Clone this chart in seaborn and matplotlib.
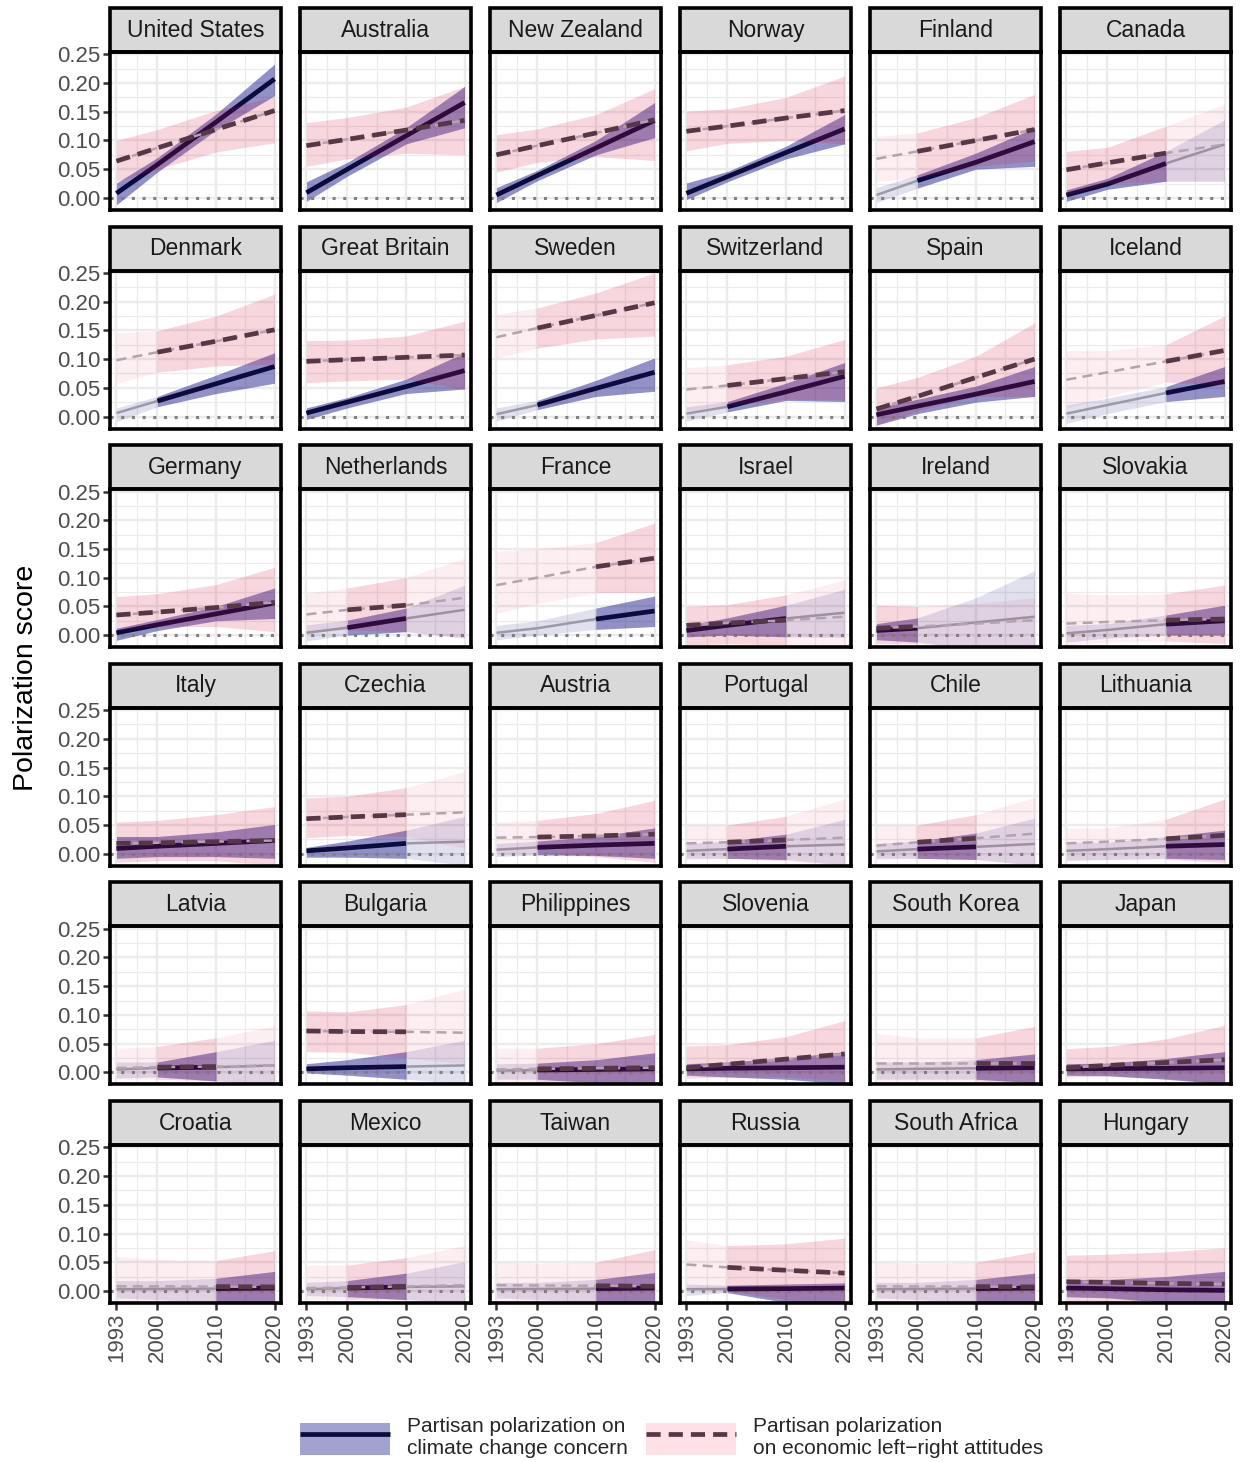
import matplotlib
matplotlib.use('Agg')
import matplotlib.pyplot as plt
from matplotlib.patches import Rectangle, Patch
from matplotlib.lines import Line2D
import seaborn as sns
import numpy as np

# Données : tendances ajustées aux années 1993, 2000, 2010, 2020
countries = ['United States', 'Australia', 'New Zealand', 'Norway', 'Finland', 'Canada',
             'Denmark', 'Great Britain', 'Sweden', 'Switzerland', 'Spain', 'Iceland',
             'Germany', 'Netherlands', 'France', 'Israel', 'Ireland', 'Slovakia',
             'Italy', 'Czechia', 'Austria', 'Portugal', 'Chile', 'Lithuania',
             'Latvia', 'Bulgaria', 'Philippines', 'Slovenia', 'South Korea', 'Japan',
             'Croatia', 'Mexico', 'Taiwan', 'Russia', 'South Africa', 'Hungary']
years = [1993, 2000, 2010, 2020]

clim_fit = [
    [0.008, 0.058, 0.132, 0.207], [0.009, 0.050, 0.108, 0.166], [0.005, 0.039, 0.087, 0.135],
    [0.008, 0.037, 0.079, 0.120], [0.005, 0.030, 0.062, 0.098], [0.005, 0.024, 0.060, 0.093],
    [0.006, 0.027, 0.057, 0.087], [0.006, 0.025, 0.052, 0.080], [0.004, 0.020, 0.049, 0.077],
    [0.005, 0.017, 0.043, 0.070], [0.003, 0.018, 0.039, 0.061], [0.005, 0.020, 0.041, 0.061],
    [0.004, 0.018, 0.037, 0.056], [0.004, 0.013, 0.029, 0.044], [0.004, 0.012, 0.028, 0.042],
    [0.008, 0.017, 0.029, 0.039], [0.008, 0.012, 0.022, 0.032], [0.003, 0.009, 0.019, 0.025],
    [0.009, 0.013, 0.018, 0.023], [0.005, 0.010, 0.018, 0.021], [0.007, 0.011, 0.015, 0.018],
    [0.005, 0.008, 0.013, 0.016], [0.004, 0.008, 0.012, 0.017], [0.005, 0.008, 0.013, 0.016],
    [0.005, 0.0075, 0.009, 0.012], [0.006, 0.008, 0.010, 0.012], [0.003, 0.004, 0.005, 0.006],
    [0.006, 0.007, 0.008, 0.009], [0.005, 0.006, 0.007, 0.008], [0.006, 0.0065, 0.007, 0.008],
    [0.003, 0.0035, 0.004, 0.005], [0.003, 0.005, 0.007, 0.008], [0.003, 0.0035, 0.004, 0.005],
    [0.003, 0.0035, 0.004, 0.005], [0.003, 0.0035, 0.004, 0.005], [0.005, 0.004, 0.002, 0.001],
]
clim_low = [
    [-0.012, 0.045, 0.118, 0.178], [-0.006, 0.038, 0.094, 0.122], [-0.008, 0.030, 0.075, 0.105],
    [-0.003, 0.028, 0.068, 0.094], [-0.008, 0.017, 0.050, 0.055], [-0.006, 0.015, 0.029, 0.029],
    [-0.009, 0.017, 0.040, 0.058], [-0.005, 0.015, 0.040, 0.048], [-0.008, 0.012, 0.035, 0.044],
    [-0.008, 0.008, 0.028, 0.026], [-0.015, 0.005, 0.025, 0.035], [-0.012, 0.005, 0.026, 0.035],
    [-0.009, 0.008, 0.025, 0.029], [-0.010, 0.000, 0.006, -0.005], [-0.008, 0.000, 0.010, 0.015],
    [-0.003, 0.000, -0.003, -0.004], [-0.008, -0.012, -0.025, -0.040], [-0.012, -0.005, 0.000, 0.000],
    [-0.008, -0.005, -0.005, -0.008], [-0.006, -0.006, -0.008, -0.020], [-0.005, -0.002, -0.003, -0.008],
    [-0.008, -0.008, -0.010, -0.020], [-0.008, -0.008, -0.010, -0.020], [-0.012, -0.010, -0.008, -0.010],
    [-0.010, -0.008, -0.015, -0.020], [-0.001, -0.005, -0.012, -0.020], [-0.012, -0.012, -0.018, -0.025],
    [-0.005, -0.008, -0.012, -0.020], [-0.012, -0.012, -0.012, -0.018], [-0.005, -0.006, -0.012, -0.020],
    [-0.012, -0.015, -0.020, -0.025], [-0.008, -0.010, -0.015, -0.020], [-0.012, -0.015, -0.020, -0.025],
    [-0.008, -0.003, -0.020, -0.035], [-0.012, -0.015, -0.020, -0.025], [-0.010, -0.012, -0.020, -0.030],
]
clim_high = [
    [0.026, 0.070, 0.146, 0.233], [0.028, 0.062, 0.122, 0.194], [0.018, 0.048, 0.100, 0.166],
    [0.026, 0.046, 0.090, 0.145], [0.018, 0.040, 0.078, 0.122], [0.014, 0.034, 0.081, 0.136],
    [0.015, 0.035, 0.072, 0.111], [0.015, 0.033, 0.065, 0.111], [0.015, 0.028, 0.063, 0.102],
    [0.017, 0.026, 0.058, 0.094], [0.015, 0.030, 0.053, 0.087], [0.020, 0.032, 0.052, 0.087],
    [0.012, 0.027, 0.050, 0.082], [0.018, 0.026, 0.047, 0.087], [0.017, 0.025, 0.047, 0.068],
    [0.017, 0.030, 0.052, 0.080], [0.020, 0.030, 0.065, 0.112], [0.017, 0.020, 0.035, 0.052],
    [0.030, 0.030, 0.038, 0.051], [0.011, 0.022, 0.041, 0.065], [0.018, 0.022, 0.030, 0.045],
    [0.018, 0.022, 0.034, 0.060], [0.018, 0.022, 0.036, 0.062], [0.020, 0.020, 0.030, 0.041],
    [0.018, 0.018, 0.036, 0.056], [0.015, 0.022, 0.036, 0.056], [0.015, 0.016, 0.022, 0.034],
    [0.015, 0.018, 0.025, 0.036], [0.018, 0.018, 0.022, 0.032], [0.015, 0.016, 0.024, 0.036],
    [0.018, 0.018, 0.022, 0.034], [0.015, 0.018, 0.031, 0.051], [0.015, 0.015, 0.020, 0.032],
    [0.012, 0.010, 0.012, 0.014], [0.015, 0.015, 0.020, 0.031], [0.020, 0.020, 0.025, 0.034],
]
econ_fit = [
    [0.064, 0.087, 0.119, 0.152], [0.091, 0.102, 0.118, 0.135], [0.075, 0.091, 0.113, 0.136],
    [0.116, 0.125, 0.139, 0.152], [0.068, 0.081, 0.100, 0.119], [0.049, 0.061, 0.078, 0.093],
    [0.098, 0.112, 0.131, 0.151], [0.096, 0.099, 0.103, 0.107], [0.138, 0.154, 0.176, 0.198],
    [0.047, 0.054, 0.066, 0.078], [0.013, 0.035, 0.068, 0.100], [0.064, 0.077, 0.096, 0.115],
    [0.035, 0.040, 0.048, 0.057], [0.036, 0.044, 0.052, 0.065], [0.087, 0.100, 0.119, 0.134],
    [0.017, 0.021, 0.026, 0.032], [0.012, 0.015, 0.020, 0.026], [0.020, 0.023, 0.026, 0.028],
    [0.018, 0.019, 0.021, 0.023], [0.061, 0.064, 0.068, 0.072], [0.028, 0.029, 0.031, 0.034],
    [0.018, 0.020, 0.024, 0.028], [0.014, 0.020, 0.027, 0.035], [0.018, 0.021, 0.026, 0.032],
    [0.0075, 0.009, 0.010, 0.012], [0.072, 0.071, 0.0705, 0.069], [0.005, 0.006, 0.007, 0.008],
    [0.008, 0.014, 0.023, 0.032], [0.017, 0.017, 0.017, 0.017], [0.008, 0.012, 0.017, 0.022],
    [0.008, 0.008, 0.0075, 0.007], [0.005, 0.006, 0.008, 0.010], [0.010, 0.0095, 0.009, 0.008],
    [0.046, 0.041, 0.036, 0.031], [0.008, 0.0078, 0.0075, 0.007], [0.016, 0.015, 0.013, 0.012],
]
econ_low = [
    [0.029, 0.050, 0.080, 0.096], [0.055, 0.068, 0.078, 0.075], [0.045, 0.062, 0.072, 0.065],
    [0.082, 0.095, 0.100, 0.094], [0.029, 0.035, 0.055, 0.064], [0.005, 0.025, 0.029, 0.029],
    [0.058, 0.077, 0.088, 0.091], [0.059, 0.062, 0.065, 0.047], [0.102, 0.119, 0.135, 0.140],
    [0.010, 0.020, 0.030, 0.029], [-0.015, 0.010, 0.035, 0.035], [0.015, 0.035, 0.060, 0.055],
    [0.009, 0.015, 0.015, 0.006], [0.005, 0.009, 0.006, -0.005], [0.038, 0.055, 0.074, 0.074],
    [-0.017, -0.015, -0.017, -0.017], [-0.015, -0.015, -0.020, -0.030], [-0.017, -0.012, -0.010, -0.015],
    [-0.015, -0.012, -0.012, -0.020], [0.028, 0.032, 0.030, 0.010], [0.000, 0.002, -0.005, -0.015],
    [-0.010, -0.008, -0.012, -0.020], [-0.010, -0.008, -0.010, -0.020], [-0.010, -0.010, -0.010, -0.015],
    [-0.012, -0.012, -0.015, -0.020], [0.036, 0.035, 0.025, 0.015], [-0.020, -0.020, -0.022, -0.025],
    [-0.010, -0.008, -0.008, -0.015], [-0.015, -0.015, -0.015, -0.020], [-0.008, -0.006, -0.010, -0.020],
    [-0.020, -0.020, -0.020, -0.025], [-0.015, -0.015, -0.015, -0.020], [-0.020, -0.020, -0.020, -0.025],
    [0.005, 0.000, -0.015, -0.035], [-0.020, -0.020, -0.020, -0.025], [-0.020, -0.020, -0.025, -0.030],
]
econ_high = [
    [0.100, 0.119, 0.152, 0.176], [0.131, 0.140, 0.158, 0.194], [0.110, 0.120, 0.145, 0.190],
    [0.151, 0.155, 0.175, 0.212], [0.107, 0.113, 0.140, 0.180], [0.081, 0.088, 0.125, 0.163],
    [0.146, 0.149, 0.175, 0.213], [0.132, 0.133, 0.140, 0.166], [0.178, 0.189, 0.215, 0.250],
    [0.085, 0.090, 0.105, 0.134], [0.050, 0.068, 0.105, 0.163], [0.115, 0.115, 0.125, 0.175],
    [0.067, 0.072, 0.088, 0.118], [0.073, 0.082, 0.100, 0.134], [0.146, 0.150, 0.161, 0.195],
    [0.050, 0.053, 0.070, 0.096], [0.052, 0.050, 0.055, 0.065], [0.073, 0.070, 0.072, 0.087],
    [0.055, 0.058, 0.068, 0.082], [0.097, 0.100, 0.115, 0.143], [0.055, 0.058, 0.070, 0.093],
    [0.050, 0.050, 0.065, 0.095], [0.050, 0.050, 0.068, 0.098], [0.045, 0.045, 0.060, 0.095],
    [0.042, 0.045, 0.060, 0.081], [0.107, 0.105, 0.118, 0.145], [0.042, 0.042, 0.050, 0.066],
    [0.046, 0.048, 0.062, 0.090], [0.068, 0.060, 0.060, 0.080], [0.041, 0.045, 0.058, 0.082],
    [0.060, 0.055, 0.053, 0.070], [0.045, 0.045, 0.058, 0.079], [0.051, 0.048, 0.050, 0.072],
    [0.089, 0.079, 0.082, 0.092], [0.050, 0.048, 0.050, 0.068], [0.062, 0.064, 0.068, 0.075],
]
# période observée (début, fin) de chaque série
clim_span = [
    (1993, 2020), (1993, 2020), (1993, 2020), (1993, 2020), (2000, 2020), (1993, 2010),
    (2000, 2020), (1993, 2020), (2000, 2020), (2000, 2020), (1993, 2020), (2010, 2020),
    (1993, 2020), (2000, 2010), (2010, 2020), (1993, 2010), (1993, 2000), (2010, 2020),
    (1993, 2020), (1993, 2010), (2000, 2020), (2000, 2010), (2000, 2010), (2010, 2020),
    (2000, 2010), (1993, 2010), (2000, 2020), (1993, 2020), (2010, 2020), (1993, 2020),
    (2010, 2020), (2000, 2010), (2010, 2020), (2000, 2020), (2010, 2020), (1993, 2020),
]
econ_span = list(clim_span)

BLUE = '#000080'
PINK = '#DC143C'
NAVY = '#0B0B3E'
ECON = '#553746'

sns.set_theme(style='whitegrid')
plt.rcParams['font.family'] = ['Liberation Sans', 'DejaVu Sans']
plt.rcParams['lines.solid_capstyle'] = 'butt'
plt.rcParams['lines.dash_capstyle'] = 'butt'

fig, axes = plt.subplots(6, 6, figsize=(12.53, 14.62), dpi=100, sharex=True, sharey=True)
fig.subplots_adjust(left=110 / 1253, right=1231 / 1253, top=1 - 52 / 1462,
                    bottom=1 - 1303 / 1462, wspace=0.111, hspace=0.384)


def observed(span, vals):
    idx = [i for i, yr in enumerate(years) if span[0] <= yr <= span[1]]
    return [years[i] for i in idx], [vals[i] for i in idx]


for k, ax in enumerate(axes.flat):
    row, col = divmod(k, 6)
    # rubans climat
    ax.fill_between(years, clim_low[k], clim_high[k], color=BLUE, alpha=0.12, lw=0, zorder=2)
    ox, olo = observed(clim_span[k], clim_low[k])
    _, ohi = observed(clim_span[k], clim_high[k])
    ax.fill_between(ox, olo, ohi, color=BLUE, alpha=0.35, lw=0, zorder=2)
    ax.axhline(0, color='#808080', ls=(0, (1, 2.5)), lw=2.2, zorder=3)
    sns.lineplot(x=years, y=clim_fit[k], ax=ax, color='#9A9AA8', lw=1.8, zorder=4)
    ox, of = observed(clim_span[k], clim_fit[k])
    sns.lineplot(x=ox, y=of, ax=ax, color=NAVY, lw=3.4, zorder=4)
    # rubans économie
    ax.fill_between(years, econ_low[k], econ_high[k], color=PINK, alpha=0.07, lw=0, zorder=5)
    ox, olo = observed(econ_span[k], econ_low[k])
    _, ohi = observed(econ_span[k], econ_high[k])
    ax.fill_between(ox, olo, ohi, color=PINK, alpha=0.11, lw=0, zorder=5)
    sns.lineplot(x=years, y=econ_fit[k], ax=ax, color='#B5A3AB', lw=1.8,
                 ls=(0, (4, 2.5)), zorder=6)
    ox, of = observed(econ_span[k], econ_fit[k])
    sns.lineplot(x=ox, y=of, ax=ax, color=ECON, lw=3.4, ls=(0, (3, 1.7)), zorder=6)

    ax.set_xlim(1991.9, 2021.1)
    ax.set_ylim(-0.021, 0.254)
    ax.set_xticks(years)
    ax.set_xticks([1996.5, 2005, 2015], minor=True)
    ax.set_yticks(np.arange(0, 0.26, 0.05))
    ax.set_yticks(np.arange(0.025, 0.26, 0.05), minor=True)
    ax.grid(True, which='major', color='#EBEBEB', lw=1.7)
    ax.grid(True, which='minor', color='#EBEBEB', lw=0.9)
    ax.set_axisbelow(True)
    ax.set_xlabel('')
    ax.set_ylabel('')
    for sp in ax.spines.values():
        sp.set_visible(True)
        sp.set_color('black')
        sp.set_linewidth(2.6)
        sp.set_zorder(10)
    ax.tick_params(axis='both', which='minor', length=0)
    ax.tick_params(axis='y', length=5 if col == 0 else 0, width=1.8, color='#333333',
                   labelsize=16, labelcolor='#4D4D4D', pad=2, left=True)
    ax.tick_params(axis='x', length=5 if row == 5 else 0, width=1.8, color='#333333',
                   labelsize=16, labelcolor='#4D4D4D', pad=2, bottom=True,
                   labelrotation=90)
    ax.yaxis.set_major_formatter(matplotlib.ticker.FormatStrFormatter('%.2f'))

    # bandeau du pays
    strip = Rectangle((0, 1.0), 1, 44 / 158, transform=ax.transAxes, clip_on=False,
                      facecolor='#D9D9D9', edgecolor='black', lw=2.6, zorder=10)
    ax.add_patch(strip)
    ax.text(0.5, 1.0 + 22 / 158, countries[k], transform=ax.transAxes, ha='center',
            va='center', fontsize=16.5, color='#1A1A1A', zorder=11)

fig.text(0.021, 0.536, 'Polarization score', rotation=90, fontsize=20.5,
         va='center', ha='center', color='black')

h1 = (Patch(facecolor='#A0A3D0', edgecolor='none'), Line2D([], [], color=NAVY, lw=3.4))
h2 = (Patch(facecolor='#FDE1E6', edgecolor='none'),
      Line2D([], [], color=ECON, lw=3.4, ls=(0, (3, 1.7))))
fig.legend([h1, h2],
           ['Partisan polarization on\nclimate change concern',
            'Partisan polarization\non economic left\u2212right attitudes'],
           loc='center', bbox_to_anchor=(0.536, 0.0165), ncol=2, frameon=False,
           fontsize=15, handlelength=4.3, handleheight=2.0, handletextpad=0.8,
           columnspacing=0.9, labelspacing=0.2)

plt.savefig('out.png', dpi=100)
plt.close()
